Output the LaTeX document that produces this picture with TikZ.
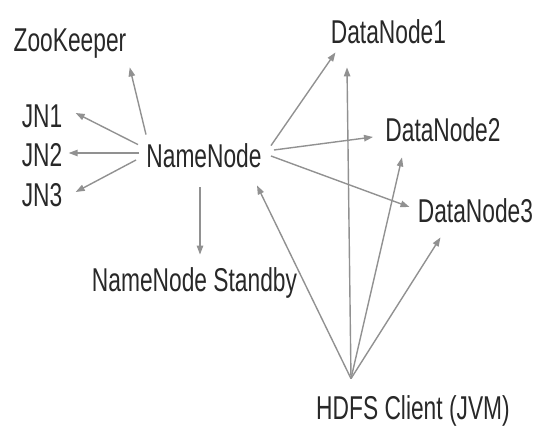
\documentclass[tikz,border=0pt]{standalone}
\usepackage{fontspec}
\setmainfont{Liberation Sans}[FakeStretch=0.69]
\usetikzlibrary{arrows.meta}
\definecolor{LineGray}{RGB}{145,145,145}
\definecolor{TextGray}{RGB}{40,40,40}
\begin{document}
\begin{tikzpicture}[
  x=0.5pt,y=-0.5pt,
  lbl/.style={anchor=base,inner sep=0pt,text height=11pt,text depth=3pt,
              font=\fontsize{16.5}{19}\selectfont,text=TextGray},
  arr/.style={-{Triangle[length=4.5pt,width=3.2pt]},line width=0.7pt,LineGray},
]
\useasboundingbox (0,0) rectangle (538,428);
% nodes, placed at their baselines
\node[lbl] (zk) at (70,52) {ZooKeeper};
\node[lbl] (jn1) at (42,128) {JN1};
\node[lbl] (jn2) at (42,167) {JN2};
\node[lbl] (jn3) at (42,207) {JN3};
\node[lbl] (nn) at (204,168) {NameNode};
\node[lbl] (nns) at (194.5,292) {NameNode Standby};
\node[lbl] (dn1) at (388.5,44) {DataNode1};
\node[lbl] (dn2) at (443,141) {DataNode2};
\node[lbl] (dn3) at (475.5,223) {DataNode3};
\node[lbl] (hdfs) at (413,420) {HDFS Client (JVM)};
\coordinate (hub) at ([shift={(-62,-19)}]hdfs.north);
% NameNode
\draw[arr] ([shift={(0,-11)}]nn.north west) -- ([shift={(3,9)}]zk.south east);
\draw[arr] ([shift={(-8,-1)}]nn.north west) -- ([shift={(13,-7)}]jn1.east);
\draw[arr] ([shift={(-7,-7)}]nn.west) -- ([shift={(6,-6)}]jn2.east);
\draw[arr] ([shift={(-10,0)}]nn.west) -- ([shift={(13,-7)}]jn3.east);
\draw[arr] ([shift={(-4,13)}]nn.south) -- ([shift={(5.5,-15)}]nns.north);
\draw[arr] ([shift={(9,0)}]nn.north east) -- ([shift={(5,2)}]dn1.south west);
\draw[arr] ([shift={(12,-10)}]nn.east) -- ([shift={(-12,4)}]dn2.west);
\draw[arr] ([shift={(9,-4)}]nn.east) -- ([shift={(-8,-8)}]dn3.west);
% client
\draw[arr] (hub) -- ([shift={(-5,11)}]nn.south east);
\draw[arr] (hub) -- ([shift={(-41.5,17)}]dn1.south);
\draw[arr] (hub) -- ([shift={(17,10)}]dn2.south west);
\draw[arr] (hub) -- ([shift={(23,8)}]dn3.south west);
\end{tikzpicture}
\end{document}
